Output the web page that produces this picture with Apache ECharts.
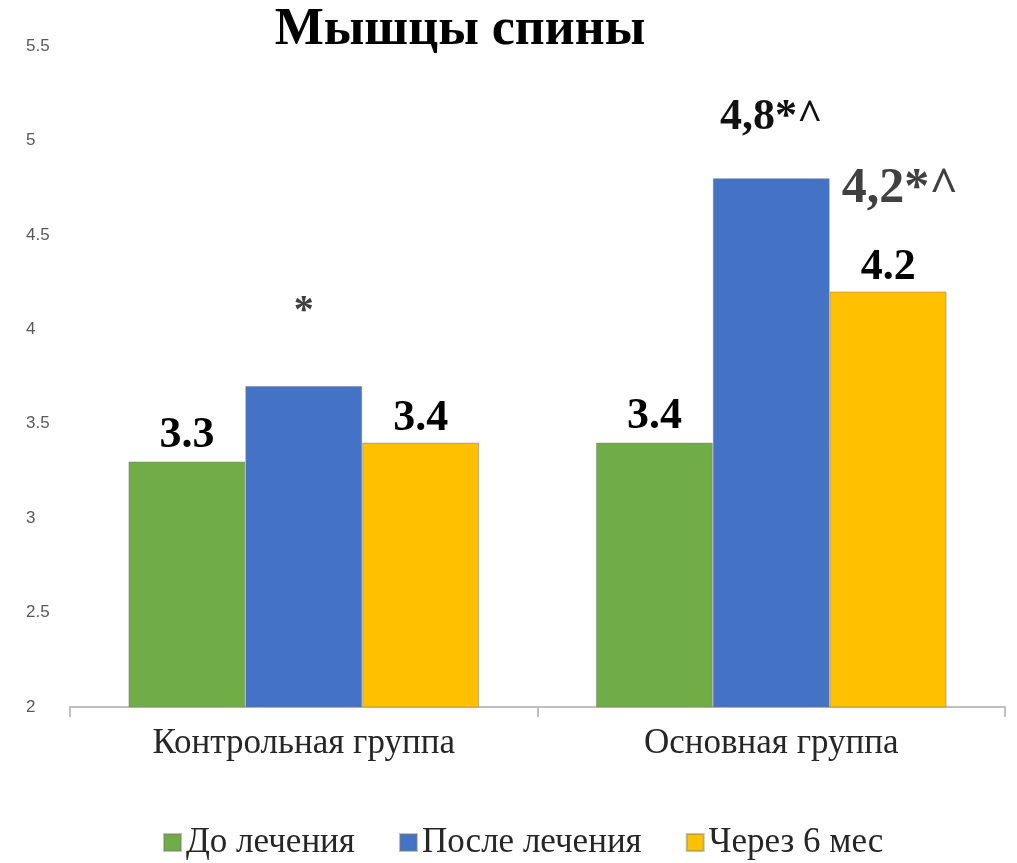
<!DOCTYPE html>
<html>
<head>
<meta charset="utf-8">
<script src="https://cdn.jsdelivr.net/npm/echarts@6/dist/echarts.min.js"></script>
<style>html,body{margin:0;padding:0;background:#fff}#c{width:1017px;height:863px}</style>
</head>
<body>
<div id="c"></div>
<script>
const titleText = 'Мышцы спины';
const categories = ['Контрольная группа', 'Основная группа'];
const seriesNames = ['До лечения', 'После лечения', 'Через 6 мес'];
const beforeValues = [3.3, 3.4];
const afterValues = [3.7, 4.8];
const sixMonthValues = [3.4, 4.2];
const afterNotes = ['*', '4,8*^'];
const sixMonthNotes = ['', '4,2*^'];
const yTicks = [2, 2.5, 3, 3.5, 4, 4.5, 5, 5.5];

const colors = ['#70AD47', '#4472C4', '#FFC000'];
const serif = '"Liberation Serif", "Times New Roman", serif';

const chart = echarts.init(document.getElementById('c'), null, {renderer: 'canvas'});

const barBase = {
  type: 'bar',
  barGap: '0%',
  barCategoryGap: '25%',
  itemStyle: {borderColor: 'rgba(120,120,120,0.45)', borderWidth: 1},
  emphasis: {disabled: true}
};

const valLabel = {
  show: true, position: 'top', distance: 4,
  fontFamily: serif, fontWeight: 'bold', fontSize: 44, color: '#000'
};

const option = {
  animation: false,
  title: {
    text: titleText, left: 455, top: 0, textAlign: 'center',
    textStyle: {fontFamily: serif, fontWeight: 'bold', fontSize: 52, color: '#000'}
  },
  legend: {
    data: seriesNames, left: 158, top: 820, itemWidth: 17, itemHeight: 17, itemGap: 44,
    icon: 'rect',
    textStyle: {fontFamily: serif, fontSize: 35, color: '#262626'}
  },
  grid: {left: 70, right: 12, top: 46, bottom: 156},
  xAxis: {
    type: 'category', data: categories,
    axisLine: {lineStyle: {color: '#bfbfbf', width: 2}},
    axisTick: {show: true, length: 10, lineStyle: {color: '#bfbfbf', width: 2}},
    axisLabel: {fontFamily: serif, fontSize: 35, color: '#262626', margin: 19}
  },
  yAxis: {
    type: 'value', min: yTicks[0], max: yTicks[yTicks.length - 1], interval: 0.5,
    axisLine: {show: false}, axisTick: {show: false}, splitLine: {show: false},
    axisLabel: {
      align: 'left', margin: 44, fontFamily: '"Liberation Sans", Arial, sans-serif',
      fontSize: 17, color: '#595959',
      formatter: v => String(v)
    }
  },
  series: [
    Object.assign({}, barBase, {
      name: seriesNames[0], color: colors[0],
      label: valLabel,
      data: beforeValues
    }),
    Object.assign({}, barBase, {
      name: seriesNames[1], color: colors[1],
      data: afterValues.map((v, i) => ({
        value: v,
        label: {
          show: true, position: 'top',
          distance: i === 0 ? 54 : 39,
          formatter: afterNotes[i],
          fontFamily: serif, fontWeight: 'bold',
          fontSize: i === 0 ? 40 : 44,
          color: i === 0 ? '#404040' : '#111'
        }
      }))
    }),
    Object.assign({}, barBase, {
      name: seriesNames[2], color: colors[2],
      data: sixMonthValues.map((v, i) => ({
        value: v,
        label: {
          show: true, position: 'top', distance: 2,
          formatter: sixMonthNotes[i] ? '{note|' + sixMonthNotes[i] + '}\n{val|' + v + '}' : '{val|' + v + '}',
          rich: {
            note: {fontFamily: serif, fontWeight: 'bold', fontSize: 50, color: '#404040',
                   lineHeight: 112, padding: [0, 0, 0, 24]},
            val: {fontFamily: serif, fontWeight: 'bold', fontSize: 44, color: '#000',
                  lineHeight: 44, align: 'center'}
          }
        }
      }))
    })
  ]
};
chart.setOption(option);
</script>
</body>
</html>
